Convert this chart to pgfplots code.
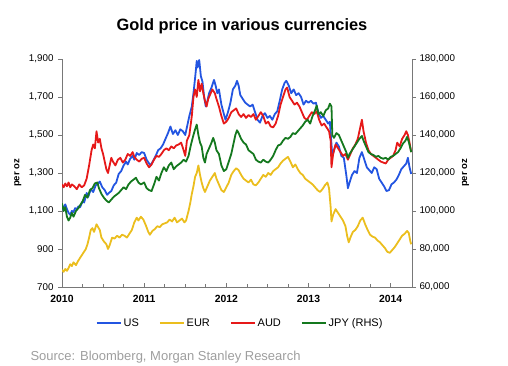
\documentclass[border=0pt]{standalone}
\usepackage{fontspec}
\setmainfont{Liberation Sans}
\usepackage{pgfplots}
\pgfplotsset{compat=1.18}
\definecolor{cus}{RGB}{35,85,225}
\definecolor{ceur}{RGB}{235,190,30}
\definecolor{caud}{RGB}{230,25,25}
\definecolor{cjpy}{RGB}{20,120,30}
\definecolor{axgray}{RGB}{120,120,120}
\begin{document}
\begin{tikzpicture}
\path[use as bounding box] (0pt,0pt) rectangle (508pt,365pt);
\node[font=\bfseries\fontsize{16.4}{18}\selectfont] at (242pt,339pt) {Gold price in various currencies};
\node[anchor=west, text=black!38, font=\fontsize{13}{15}\selectfont] at (27pt,8pt) {Source: Bloomberg, Morgan Stanley Research};
\begin{axis}[
  at={(62pt,78pt)}, anchor=south west, scale only axis, width=350pt, height=228pt,
  xmin=2010, xmax=2014.26, ymin=700, ymax=1900,
  axis x line*=bottom, axis y line*=left,
  axis line style={axgray, line width=0.8pt},
  tick style={axgray, line width=0.6pt},
  tick align=inside, major tick length=4pt, minor tick length=3pt,
  y tick style={xshift=-4pt},
  xtick={2010,2011,2012,2013,2014}, minor x tick num=3,
  ytick={700,900,1100,1300,1500,1700,1900},
  /pgf/number format/fixed,
  /pgf/number format/assume math mode=true,
  /pgf/number format/1000 sep={,},
  xticklabel style={font=\bfseries\fontsize{10.4}{12}\selectfont, /pgf/number format/1000 sep=, yshift=-5pt},
  yticklabel style={font=\fontsize{9.8}{11}\selectfont, xshift=-5pt},
  ylabel={per oz},
  ylabel style={font=\bfseries\fontsize{9.5}{10}\selectfont, at={(axis description cs:-0.126,0.5)}, anchor=center},
  legend style={at={(axis description cs:0.509,-0.158)}, anchor=center, draw=none, fill=none,
    font=\fontsize{11}{13}\selectfont, /tikz/every even column/.append style={column sep=18pt}},
  legend columns=4,
  legend image code/.code={\draw[#1] (0pt,0pt) -- (24pt,0pt);},
  every axis plot/.append style={line width=1.8pt, line join=round},
]
\addplot[cus] coordinates {(2010.00,1105)(2010.02,1120)(2010.04,1135)(2010.06,1110)(2010.08,1090)(2010.10,1080)(2010.12,1100)(2010.14,1095)(2010.16,1115)(2010.18,1110)(2010.20,1125)(2010.22,1120)(2010.25,1150)(2010.27,1145)(2010.30,1195)(2010.32,1175)(2010.35,1215)(2010.38,1200)(2010.41,1235)(2010.44,1245)(2010.46,1255)(2010.49,1225)(2010.52,1210)(2010.55,1185)(2010.57,1195)(2010.60,1205)(2010.63,1235)(2010.66,1250)(2010.69,1295)(2010.72,1310)(2010.75,1340)(2010.78,1360)(2010.80,1345)(2010.83,1375)(2010.86,1390)(2010.88,1370)(2010.91,1405)(2010.94,1395)(2010.97,1410)(2011.00,1405)(2011.03,1370)(2011.06,1350)(2011.08,1340)(2011.11,1365)(2011.14,1390)(2011.17,1420)(2011.20,1430)(2011.23,1450)(2011.26,1480)(2011.29,1510)(2011.32,1545)(2011.35,1505)(2011.38,1525)(2011.41,1500)(2011.44,1530)(2011.47,1520)(2011.50,1500)(2011.53,1560)(2011.55,1600)(2011.58,1650)(2011.60,1720)(2011.62,1800)(2011.64,1890)(2011.65,1855)(2011.67,1895)(2011.69,1810)(2011.71,1780)(2011.73,1700)(2011.75,1650)(2011.77,1680)(2011.79,1720)(2011.82,1750)(2011.85,1790)(2011.87,1760)(2011.89,1720)(2011.91,1740)(2011.94,1660)(2011.97,1610)(2011.99,1580)(2012.02,1620)(2012.05,1670)(2012.08,1740)(2012.11,1760)(2012.13,1785)(2012.15,1760)(2012.17,1710)(2012.20,1690)(2012.23,1670)(2012.26,1660)(2012.29,1650)(2012.32,1660)(2012.35,1620)(2012.38,1580)(2012.41,1565)(2012.44,1600)(2012.47,1615)(2012.50,1590)(2012.53,1600)(2012.56,1580)(2012.59,1610)(2012.62,1625)(2012.65,1680)(2012.68,1740)(2012.71,1775)(2012.73,1785)(2012.76,1760)(2012.79,1720)(2012.82,1740)(2012.85,1710)(2012.88,1720)(2012.91,1700)(2012.94,1660)(2012.97,1680)(2013.00,1670)(2013.03,1680)(2013.06,1665)(2013.09,1670)(2013.12,1620)(2013.15,1590)(2013.18,1600)(2013.21,1580)(2013.24,1560)(2013.26,1570)(2013.29,1390)(2013.31,1420)(2013.34,1460)(2013.37,1440)(2013.40,1390)(2013.43,1380)(2013.46,1290)(2013.48,1220)(2013.50,1250)(2013.53,1290)(2013.56,1310)(2013.59,1300)(2013.62,1380)(2013.65,1410)(2013.68,1370)(2013.71,1330)(2013.74,1315)(2013.77,1300)(2013.80,1330)(2013.83,1320)(2013.86,1270)(2013.89,1250)(2013.92,1230)(2013.95,1205)(2013.98,1210)(2014.01,1240)(2014.04,1250)(2014.07,1265)(2014.10,1290)(2014.13,1320)(2014.16,1335)(2014.19,1350)(2014.21,1380)(2014.23,1330)(2014.25,1295)};
\addlegendentry{US}
\addplot[ceur] coordinates {(2010.00,790)(2010.02,780)(2010.04,795)(2010.06,785)(2010.08,800)(2010.10,820)(2010.12,810)(2010.14,830)(2010.17,815)(2010.20,840)(2010.23,860)(2010.26,880)(2010.29,900)(2010.31,925)(2010.33,960)(2010.35,1000)(2010.37,1010)(2010.39,990)(2010.42,1030)(2010.44,1015)(2010.46,1000)(2010.48,960)(2010.51,940)(2010.54,925)(2010.56,900)(2010.58,920)(2010.61,960)(2010.64,955)(2010.67,970)(2010.70,960)(2010.73,975)(2010.76,970)(2010.79,960)(2010.82,980)(2010.85,1000)(2010.88,1040)(2010.91,1065)(2010.93,1050)(2010.96,1070)(2010.99,1055)(2011.02,1025)(2011.05,990)(2011.07,975)(2011.10,995)(2011.13,1005)(2011.16,1020)(2011.19,1015)(2011.22,1030)(2011.25,1035)(2011.28,1040)(2011.31,1055)(2011.34,1045)(2011.37,1065)(2011.40,1040)(2011.43,1050)(2011.46,1060)(2011.49,1040)(2011.51,1050)(2011.54,1100)(2011.56,1140)(2011.58,1190)(2011.60,1230)(2011.62,1280)(2011.64,1300)(2011.66,1340)(2011.68,1290)(2011.70,1250)(2011.72,1220)(2011.74,1200)(2011.77,1230)(2011.80,1260)(2011.83,1280)(2011.86,1300)(2011.88,1270)(2011.91,1240)(2011.94,1210)(2011.97,1200)(2012.00,1225)(2012.03,1250)(2012.06,1290)(2012.09,1310)(2012.12,1325)(2012.15,1315)(2012.18,1290)(2012.21,1270)(2012.24,1260)(2012.27,1250)(2012.30,1265)(2012.33,1240)(2012.36,1235)(2012.39,1250)(2012.42,1270)(2012.45,1290)(2012.48,1280)(2012.51,1300)(2012.54,1290)(2012.57,1310)(2012.60,1320)(2012.63,1330)(2012.66,1350)(2012.69,1365)(2012.72,1375)(2012.75,1385)(2012.78,1360)(2012.81,1330)(2012.84,1345)(2012.87,1320)(2012.90,1300)(2012.93,1290)(2012.96,1270)(2012.99,1260)(2013.02,1250)(2013.05,1240)(2013.08,1225)(2013.11,1210)(2013.14,1200)(2013.17,1215)(2013.20,1235)(2013.23,1250)(2013.25,1220)(2013.27,1120)(2013.28,1045)(2013.30,1080)(2013.33,1110)(2013.36,1090)(2013.39,1070)(2013.42,1050)(2013.45,1020)(2013.47,970)(2013.49,935)(2013.51,960)(2013.54,990)(2013.57,1000)(2013.60,1020)(2013.63,1050)(2013.66,1065)(2013.69,1030)(2013.72,1000)(2013.75,975)(2013.78,965)(2013.81,960)(2013.84,945)(2013.87,935)(2013.90,920)(2013.93,905)(2013.96,885)(2013.99,880)(2014.02,895)(2014.05,910)(2014.08,930)(2014.11,950)(2014.14,970)(2014.17,980)(2014.20,995)(2014.22,985)(2014.24,940)(2014.25,925)};
\addlegendentry{EUR}
\addplot[caud] coordinates {(2010.00,1240)(2010.02,1225)(2010.04,1245)(2010.06,1230)(2010.08,1250)(2010.10,1225)(2010.12,1240)(2010.15,1230)(2010.18,1215)(2010.21,1240)(2010.24,1225)(2010.27,1235)(2010.30,1270)(2010.33,1340)(2010.36,1420)(2010.38,1450)(2010.40,1430)(2010.42,1520)(2010.44,1460)(2010.46,1480)(2010.48,1430)(2010.50,1400)(2010.52,1360)(2010.54,1320)(2010.56,1300)(2010.58,1340)(2010.60,1380)(2010.62,1360)(2010.65,1340)(2010.68,1370)(2010.71,1380)(2010.74,1355)(2010.77,1370)(2010.80,1400)(2010.83,1390)(2010.86,1410)(2010.88,1385)(2010.91,1370)(2010.94,1360)(2010.97,1375)(2011.00,1380)(2011.03,1350)(2011.06,1330)(2011.09,1345)(2011.12,1370)(2011.15,1390)(2011.18,1385)(2011.21,1400)(2011.24,1420)(2011.27,1430)(2011.30,1420)(2011.33,1440)(2011.36,1430)(2011.39,1445)(2011.42,1450)(2011.45,1460)(2011.48,1420)(2011.50,1390)(2011.52,1470)(2011.55,1500)(2011.58,1600)(2011.60,1700)(2011.62,1740)(2011.64,1700)(2011.66,1790)(2011.68,1730)(2011.70,1770)(2011.72,1720)(2011.74,1680)(2011.76,1650)(2011.78,1690)(2011.80,1710)(2011.83,1740)(2011.86,1720)(2011.88,1690)(2011.91,1650)(2011.94,1600)(2011.97,1560)(2012.00,1570)(2012.03,1590)(2012.06,1620)(2012.09,1630)(2012.12,1640)(2012.15,1610)(2012.18,1595)(2012.21,1610)(2012.24,1590)(2012.27,1605)(2012.30,1595)(2012.33,1610)(2012.36,1580)(2012.39,1600)(2012.42,1620)(2012.45,1600)(2012.48,1560)(2012.51,1570)(2012.54,1545)(2012.57,1540)(2012.60,1560)(2012.63,1600)(2012.66,1660)(2012.69,1700)(2012.72,1740)(2012.74,1750)(2012.77,1700)(2012.80,1680)(2012.83,1660)(2012.86,1670)(2012.89,1650)(2012.92,1620)(2012.95,1590)(2012.98,1580)(2013.01,1600)(2013.04,1620)(2013.07,1610)(2013.10,1625)(2013.13,1580)(2013.16,1550)(2013.19,1560)(2013.22,1540)(2013.25,1520)(2013.27,1470)(2013.28,1330)(2013.30,1400)(2013.33,1450)(2013.36,1430)(2013.39,1410)(2013.42,1390)(2013.45,1400)(2013.48,1370)(2013.51,1400)(2013.54,1430)(2013.57,1450)(2013.60,1480)(2013.63,1540)(2013.65,1580)(2013.67,1520)(2013.70,1460)(2013.73,1420)(2013.76,1400)(2013.79,1390)(2013.82,1380)(2013.85,1370)(2013.88,1360)(2013.91,1355)(2013.94,1350)(2013.97,1370)(2014.00,1380)(2014.03,1390)(2014.06,1420)(2014.08,1460)(2014.11,1440)(2014.14,1480)(2014.17,1500)(2014.19,1520)(2014.21,1500)(2014.23,1460)(2014.25,1410)};
\addlegendentry{AUD}
\addlegendimage{cjpy, line width=1.8pt}
\addlegendentry{JPY (RHS)}
\end{axis}
\begin{axis}[
  at={(62pt,78pt)}, anchor=south west, scale only axis, width=350pt, height=228pt,
  xmin=2010, xmax=2014.26, ymin=60000, ymax=180000,
  axis x line=none, axis y line*=right,
  axis line style={axgray, line width=0.8pt},
  tick style={axgray, line width=0.6pt},
  tick align=inside, major tick length=4pt,
  y tick style={xshift=4pt},
  ytick={60000,80000,100000,120000,140000,160000,180000},
  scaled y ticks=false,
  /pgf/number format/fixed,
  /pgf/number format/assume math mode=true,
  /pgf/number format/1000 sep={,},
  yticklabel style={font=\fontsize{9.8}{11}\selectfont, xshift=4pt},
  ylabel={per oz},
  ylabel style={font=\bfseries\fontsize{9.5}{10}\selectfont, at={(axis description cs:1.153,0.5)}, anchor=center},
  every axis plot/.append style={line width=1.8pt, line join=round},
]
\addplot[cjpy] coordinates {(2010.00,104000)(2010.02,100000)(2010.04,102000)(2010.06,97000)(2010.08,95000)(2010.10,96500)(2010.12,99000)(2010.14,97000)(2010.17,100000)(2010.20,101500)(2010.22,103000)(2010.25,105000)(2010.28,108500)(2010.31,107000)(2010.34,111000)(2010.37,112000)(2010.40,114500)(2010.43,115000)(2010.45,112000)(2010.48,109000)(2010.51,107000)(2010.54,105500)(2010.57,104500)(2010.60,106000)(2010.63,107500)(2010.66,108500)(2010.69,109500)(2010.72,111000)(2010.75,112500)(2010.78,111500)(2010.81,114000)(2010.84,115500)(2010.87,116500)(2010.90,117500)(2010.93,115000)(2010.96,114000)(2011.00,115000)(2011.03,112000)(2011.06,111000)(2011.09,110500)(2011.12,114000)(2011.15,118000)(2011.18,116000)(2011.21,120000)(2011.24,123000)(2011.27,121000)(2011.30,124000)(2011.33,125500)(2011.36,122000)(2011.39,123500)(2011.42,124500)(2011.45,125500)(2011.48,127000)(2011.51,126000)(2011.54,129000)(2011.57,135000)(2011.60,140000)(2011.62,143000)(2011.64,145500)(2011.66,140000)(2011.68,136000)(2011.70,134000)(2011.72,128000)(2011.74,125500)(2011.76,130000)(2011.79,133000)(2011.82,136000)(2011.84,138500)(2011.86,136000)(2011.88,132000)(2011.91,130000)(2011.94,124000)(2011.97,121000)(2012.00,122000)(2012.03,126000)(2012.06,130000)(2012.09,136000)(2012.11,140000)(2012.13,142500)(2012.15,141000)(2012.18,138000)(2012.21,136000)(2012.24,135000)(2012.27,132000)(2012.30,131000)(2012.33,130000)(2012.36,127000)(2012.39,126000)(2012.42,125500)(2012.45,127000)(2012.48,126000)(2012.51,125500)(2012.54,127000)(2012.57,129000)(2012.60,132000)(2012.63,134500)(2012.66,135000)(2012.69,137000)(2012.72,138500)(2012.75,138000)(2012.78,139000)(2012.81,141000)(2012.84,140500)(2012.87,142000)(2012.90,143500)(2012.93,145000)(2012.96,147000)(2012.99,148000)(2013.02,146000)(2013.05,150000)(2013.08,153000)(2013.10,155500)(2013.12,151000)(2013.15,152000)(2013.18,150000)(2013.21,153000)(2013.24,154000)(2013.26,156500)(2013.28,155000)(2013.29,140000)(2013.31,138500)(2013.34,141000)(2013.37,140000)(2013.40,137000)(2013.43,134000)(2013.46,131000)(2013.48,128000)(2013.50,130000)(2013.53,132000)(2013.56,134000)(2013.59,136000)(2013.62,138000)(2013.65,139500)(2013.67,137000)(2013.70,134000)(2013.73,131000)(2013.76,130000)(2013.79,129500)(2013.82,128500)(2013.85,129000)(2013.88,128000)(2013.91,127500)(2013.94,128000)(2013.97,127000)(2014.00,128500)(2014.03,129000)(2014.06,130000)(2014.09,131000)(2014.12,133000)(2014.15,135500)(2014.18,137000)(2014.20,139000)(2014.22,136500)(2014.24,133000)(2014.25,131000)};
\end{axis}
\end{tikzpicture}
\end{document}
